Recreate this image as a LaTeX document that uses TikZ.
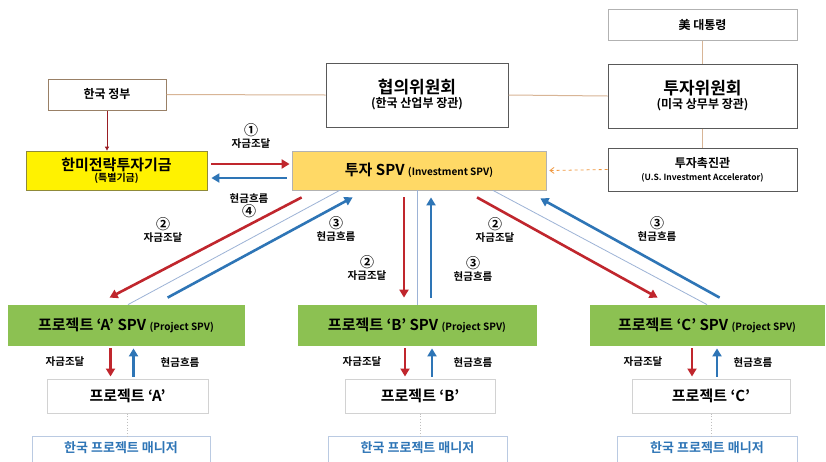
\documentclass[tikz,border=0pt]{standalone}
\usepackage{fontspec}
\setmainfont{Noto Sans CJK KR}[BoldFont={* Bold}]
\usepackage{xcolor}
\usetikzlibrary{positioning, arrows.meta, calc}
\definecolor{fundred}{HTML}{C0262D}
\definecolor{cashblue}{HTML}{2E75B6}
\definecolor{tanline}{HTML}{D8B596}
\definecolor{spvorange}{HTML}{FFD966}
\definecolor{prjgreen}{HTML}{8CC152}
\definecolor{thinblue}{HTML}{9DB3D6}
\tikzset{
  orgbox/.style={
    draw=gray!70!black, fill=white, line width=1pt,
    align=center, inner sep=0pt, font=\bfseries
  },
  fillbox/.style={
    draw=#1!70!black, fill=#1, line width=0.8pt,
    align=center, inner sep=0pt, font=\bfseries
  },
  litebox/.style={
    draw=gray!35, fill=white, line width=1pt,
    align=center, inner sep=0pt, font=\bfseries
  },
  fundarrow/.style={-{Triangle[length=8pt,width=9pt]}, fundred, line width=2.6pt},
  casharrow/.style={-{Triangle[length=8pt,width=9pt]}, cashblue, line width=2.6pt},
  link/.style={tanline, line width=1pt},
  thinlink/.style={thinblue, line width=0.8pt},
  flowlabel/.style={font=\fontsize{10.5}{12}\selectfont\bfseries, align=center}
}
\newcommand{\tsize}[1]{\fontsize{#1}{#1}\selectfont}
\newcommand{\cnum}[1]{{\tsize{14}#1}}

\begin{document}
\begin{tikzpicture}[x=1pt, y=-1pt]
\fill[white] (0,0) rectangle (826,461);
\useasboundingbox (0,0) rectangle (826,461);
\clip (0,0) rectangle (826,461);

%% Governance boxes
\node[orgbox, draw=gray!60!brown, minimum width=118pt, minimum height=31pt] (gov) at (107,94.5)
  {\tsize{12}한국 정부};
\node[orgbox, minimum width=182pt, minimum height=64pt] (council) at (417,95)
  {\tsize{17}협의위원회\\[2pt]\tsize{12}(한국 산업부 장관)};
\node[orgbox, draw=gray!60, minimum width=189pt, minimum height=31pt] (pres) at (702.5,24.5)
  {\tsize{12}美 대통령};
\node[orgbox, minimum width=189pt, minimum height=64pt] (invcom) at (702.5,96)
  {\tsize{17}투자위원회\\[2pt]\tsize{12}(미국 상무부 장관)};
\node[orgbox, minimum width=189pt, minimum height=43pt] (accel) at (702.5,169.5)
  {\tsize{12}투자촉진관\\[1pt]\tsize{8.5}(U.S. Investment Accelerator)};

%% Fund and investment SPV
\node[fillbox=yellow, draw=olive!60!gray, minimum width=181pt, minimum height=39pt] (fund) at (116.5,170.5)
  {\tsize{15}한미전략투자기금\\[-1pt]\tsize{10}(특별기금)};
\node[fillbox=spvorange, draw=gray!60, minimum width=254pt, minimum height=39pt] (spv) at (419,170.5)
  {\tsize{15}투자 SPV \tsize{10}(Investment SPV)};

%% Project SPVs
\node[fillbox=prjgreen, draw=prjgreen, minimum width=236pt, minimum height=40pt] (aspv) at (126,325)
  {\tsize{15}프로젝트 ‘A’ SPV \tsize{10}(Project SPV)};
\node[fillbox=prjgreen, draw=prjgreen, minimum width=238pt, minimum height=40pt] (bspv) at (417,325)
  {\tsize{15}프로젝트 ‘B’ SPV \tsize{10}(Project SPV)};
\node[fillbox=prjgreen, draw=prjgreen, minimum width=234pt, minimum height=40pt] (cspv) at (707,325)
  {\tsize{15}프로젝트 ‘C’ SPV \tsize{10}(Project SPV)};

%% Projects
\node[litebox, minimum width=161pt, minimum height=34pt] (prja) at (127.5,396) {\tsize{15}프로젝트 ‘A’};
\node[litebox, minimum width=150pt, minimum height=34pt] (prjb) at (420,396) {\tsize{15}프로젝트 ‘B’};
\node[litebox, minimum width=158pt, minimum height=34pt] (prjc) at (711,396) {\tsize{15}프로젝트 ‘C’};

%% Managers
\foreach \nm/\cx/\w in {mga/121/178, mgb/417.5/179, mgc/707/180}
  \node[litebox, draw=thinblue!70, font=\tsize{13}\bfseries, text=cashblue,
        text height=9pt, text depth=17pt,
        minimum width=\w pt, minimum height=40pt, anchor=north] (\nm) at (\cx,436)
    {한국 프로젝트 매니저};

%% Governance links
\draw[link] (gov.east) -- (council.west);
\draw[link] (council.east) -- (invcom.west);
\draw[link] (pres.south) -- (invcom.north);
\draw[link] (invcom.south) -- (accel.north);
\draw[fundred!80!black, line width=0.8pt, -{Triangle[length=4pt,width=4pt]}] (gov.south) -- (gov.south |- fund.north);
\draw[orange!70!brown!80, dashed, line width=0.8pt, -{Straight Barb[length=4pt,width=6pt]}] (accel.west) -- ([xshift=3pt]spv.east);

%% Fund <-> investment SPV
\draw[fundarrow] ([xshift=4pt,yshift=6.5pt]fund.east) -- ([xshift=-2pt,yshift=6.5pt]spv.west);
\draw[casharrow] ([xshift=-5pt,yshift=-7.5pt]spv.west) -- ([xshift=4pt,yshift=-7.5pt]fund.east);
\node[flowlabel] (lbla) at (251,136) {\cnum{①}\\자금조달};
\node[flowlabel] (lblb) at (249,205.5) {현금흐름\\\cnum{④}};

%% Investment SPV <-> project SPVs
\draw[thinlink] ([xshift=2pt]aspv.north) -- ([xshift=48pt]spv.south west);
\draw[fundarrow] ([xshift=10pt,yshift=-7pt]spv.south west) -- ([xshift=102pt,yshift=7pt]aspv.north west);
\draw[casharrow] ([xshift=160pt,yshift=7pt]aspv.north west) -- ([xshift=61pt,yshift=-7pt]spv.south west);
\node[flowlabel] (lblc) at (163,230) {\cnum{②}\\자금조달};
\node[flowlabel] (lbld) at (336,229) {\cnum{③}\\현금흐름};

\draw[thinlink] (spv.south -| bspv.north) -- (bspv.north);
\draw[fundarrow] ([xshift=-13pt,yshift=-7pt]spv.south -| bspv.north) -- ([xshift=-13pt,yshift=7pt]bspv.north);
\draw[casharrow] ([xshift=14pt,yshift=7pt]bspv.north) -- ([xshift=14pt,yshift=-7pt]spv.south -| bspv.north);
\node[flowlabel] (lble) at (367,268) {\cnum{②}\\자금조달};
\node[flowlabel] (lblf) at (473,269) {\cnum{③}\\현금흐름};

\draw[thinlink] ([xshift=74pt]spv.south) -- (cspv.north);
\draw[fundarrow] ([xshift=58pt,yshift=-7pt]spv.south) -- ([xshift=68pt,yshift=7pt]cspv.north west);
\draw[casharrow] ([xshift=130pt,yshift=7pt]cspv.north west) -- ([xshift=-6pt,yshift=-8pt]spv.south east);
\node[flowlabel] (lblg) at (495,230) {\cnum{②}\\자금조달};
\node[flowlabel] (lblh) at (657,229) {\cnum{③}\\현금흐름};

%% Project SPVs <-> projects
\foreach \sp/\pr/\dr/\dc/\lx/\rx in {aspv/prja/-17/6/65/180, bspv/prjb/-15/12/362/473, cspv/prjc/-19/6/643/753} {
  \draw[fundarrow] ([xshift=\dr pt,yshift=-3pt]\sp.south -| \pr.north) -- ([xshift=\dr pt,yshift=2pt]\pr.north);
  \draw[casharrow] ([xshift=\dc pt,yshift=2pt]\pr.north) -- ([xshift=\dc pt,yshift=-3pt]\sp.south -| \pr.north);
  \node[flowlabel] at (\lx,362) {자금조달};
  \node[flowlabel] at (\rx,362) {현금흐름};
}

%% Projects to managers
\foreach \pr/\mg in {prja/mga, prjb/mgb, prjc/mgc}
  \draw[gray!50, dotted, line width=0.8pt] (\pr.south) -- (\pr.south |- \mg.north);
\end{tikzpicture}
\end{document}
